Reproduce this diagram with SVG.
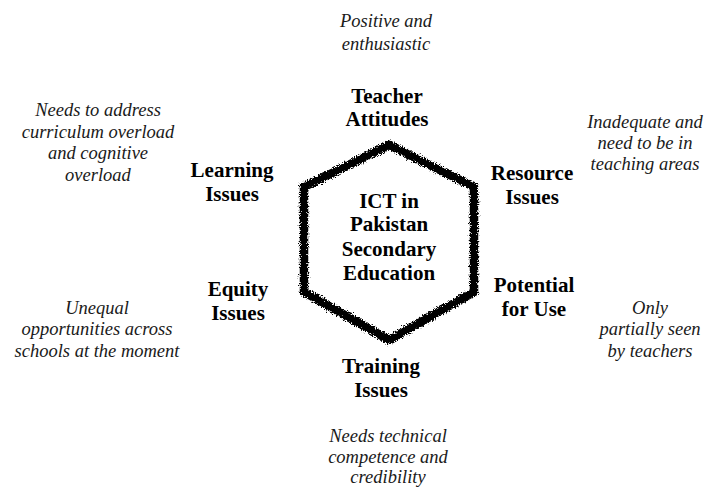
<svg xmlns="http://www.w3.org/2000/svg" width="713" height="488" viewBox="0 0 713 488">
<style>
.b{font-family:"Liberation Serif","Times New Roman",serif;font-weight:bold;font-size:21px;fill:#000;text-anchor:middle}
.i{font-family:"Liberation Serif","Times New Roman",serif;font-style:italic;font-size:18.5px;fill:#1a1a1a;text-anchor:middle}
</style>
<defs>
<filter id="rough" x="-10%" y="-10%" width="120%" height="120%">
<feTurbulence type="fractalNoise" baseFrequency="0.9" numOctaves="2" seed="3" result="n"/>
<feDisplacementMap in="SourceGraphic" in2="n" scale="7" xChannelSelector="R" yChannelSelector="G"/>
</filter>
</defs>
<rect width="713" height="488" fill="#fff"/>
<g id="connectors"></g>
<g id="center">
<polygon points="389,145 474,187 474,292 389,340 304,292 304,187" fill="none" stroke="#000" stroke-width="8.5" stroke-linejoin="miter" filter="url(#rough)"/>
<text class="b" x="389" y="208">ICT in</text>
<text class="b" x="389" y="231">Pakistan</text>
<text class="b" x="389" y="256">Secondary</text>
<text class="b" x="389" y="280">Education</text>
</g>
<g id="teacher">
<text class="b" x="387" y="103">Teacher</text>
<text class="b" x="387" y="126">Attitudes</text>
<text class="i" x="386" y="27">Positive and</text>
<text class="i" x="386" y="50">enthusiastic</text>
</g>
<g id="learning">
<text class="b" x="232" y="177">Learning</text>
<text class="b" x="232" y="201">Issues</text>
<text class="i" x="98" y="116">Needs to address</text>
<text class="i" x="98" y="138">curriculum overload</text>
<text class="i" x="98" y="159">and cognitive</text>
<text class="i" x="98" y="181">overload</text>
</g>
<g id="resource">
<text class="b" x="532" y="180">Resource</text>
<text class="b" x="532" y="204">Issues</text>
<text class="i" x="645" y="128">Inadequate and</text>
<text class="i" x="645" y="149">need to be in</text>
<text class="i" x="645" y="170">teaching areas</text>
</g>
<g id="equity">
<text class="b" x="238" y="296">Equity</text>
<text class="b" x="238" y="320">Issues</text>
<text class="i" x="97" y="314">Unequal</text>
<text class="i" x="97" y="335">opportunities across</text>
<text class="i" x="97" y="357">schools at the moment</text>
</g>
<g id="potential">
<text class="b" x="534" y="292">Potential</text>
<text class="b" x="534" y="316">for Use</text>
<text class="i" x="650" y="314">Only</text>
<text class="i" x="650" y="335">partially seen</text>
<text class="i" x="650" y="357">by teachers</text>
</g>
<g id="training">
<text class="b" x="381" y="373">Training</text>
<text class="b" x="381" y="397">Issues</text>
<text class="i" x="388" y="442">Needs technical</text>
<text class="i" x="388" y="463">competence and</text>
<text class="i" x="388" y="483">credibility</text>
</g>
</svg>
